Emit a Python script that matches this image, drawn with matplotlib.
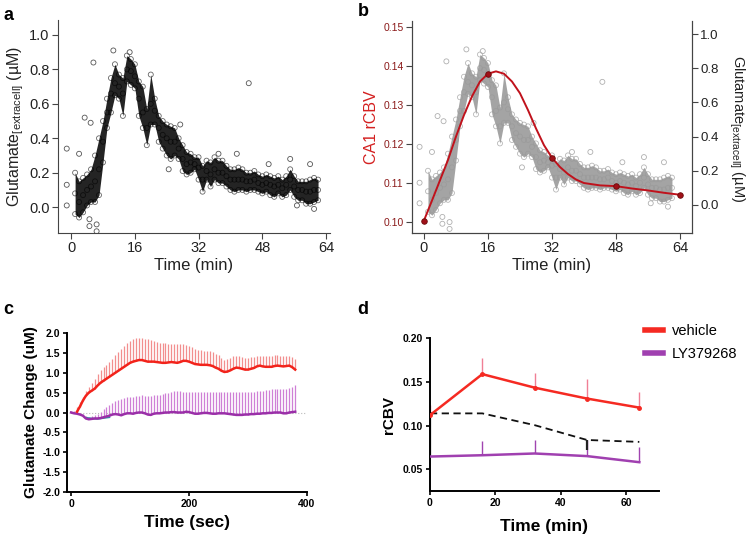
import numpy as np
import matplotlib
matplotlib.use('Agg')
import matplotlib.pyplot as plt
from matplotlib.lines import Line2D

plt.rcParams['font.family'] = ['Liberation Sans', 'DejaVu Sans']
plt.rcParams['mathtext.fontset'] = 'custom'
plt.rcParams['mathtext.rm'] = 'Liberation Sans'
plt.rcParams['mathtext.it'] = 'Liberation Sans:italic'

# ---- panel a / b : extracellular glutamate trace (uM), 1-min bins ----
glu_t = list(range(1, 63))
glu_mid = [0.08, 0.03, 0.07, 0.10, 0.12, 0.15, 0.22, 0.38, 0.55, 0.66,
           0.72, 0.70, 0.66, 0.80, 0.79, 0.76, 0.63, 0.55, 0.46, 0.60,
           0.56, 0.46, 0.42, 0.40, 0.38, 0.38, 0.34, 0.28, 0.25, 0.26,
           0.25, 0.23, 0.16, 0.21, 0.19, 0.22, 0.20, 0.20, 0.18, 0.16,
           0.16, 0.16, 0.16, 0.15, 0.15, 0.16, 0.14, 0.13, 0.14, 0.13,
           0.12, 0.13, 0.11, 0.13, 0.16, 0.12, 0.10, 0.10, 0.09, 0.09,
           0.10, 0.10]
glu_lo = [-0.04, -0.06, -0.03, 0.01, 0.03, 0.03, 0.07, 0.26, 0.46, 0.55,
          0.65, 0.63, 0.53, 0.73, 0.71, 0.69, 0.53, 0.46, 0.36, 0.48,
          0.48, 0.38, 0.34, 0.30, 0.28, 0.30, 0.28, 0.21, 0.19, 0.20,
          0.22, 0.16, 0.09, 0.16, 0.12, 0.16, 0.14, 0.14, 0.12, 0.10,
          0.09, 0.10, 0.10, 0.09, 0.10, 0.10, 0.09, 0.08, 0.09, 0.07,
          0.06, 0.08, 0.06, 0.07, 0.10, 0.06, 0.04, 0.04, 0.02, 0.02,
          0.03, 0.04]
glu_hi = [0.20, 0.15, 0.17, 0.19, 0.22, 0.30, 0.40, 0.50, 0.63, 0.75,
          0.83, 0.77, 0.75, 0.88, 0.86, 0.83, 0.73, 0.70, 0.57, 0.77,
          0.63, 0.53, 0.50, 0.48, 0.47, 0.46, 0.40, 0.36, 0.32, 0.31,
          0.29, 0.29, 0.24, 0.27, 0.26, 0.29, 0.27, 0.27, 0.24, 0.22,
          0.22, 0.23, 0.22, 0.20, 0.20, 0.21, 0.19, 0.18, 0.19, 0.18,
          0.17, 0.18, 0.16, 0.18, 0.22, 0.18, 0.15, 0.15, 0.15, 0.16,
          0.17, 0.16]
out_t = [-1.1, -1.1, -1.1, 2.0, 3.4, 4.9, 5.6, 4.6, 4.6, 6.4, 6.4, 10.6,
         14.7, 24.5, 27.4, 37.0, 41.6, 44.6, 49.6, 55.0, 56.7, 60.0, 61.0]
out_v = [0.34, 0.13, 0.01, 0.31, 0.52, 0.49, 0.84, -0.07, -0.11, -0.14,
         -0.10, 0.91, 0.90, 0.22, 0.48, 0.31, 0.31, 0.72, 0.25, 0.28,
         0.01, 0.25, -0.01]

# ---- panel b : CA1 rCBV ----
cbv_t = [0, 16, 32, 48, 64]
cbv = [0.1004, 0.1380, 0.1165, 0.1092, 0.1070]
cbv_curve_t = [0, 2, 4, 6, 8, 10, 12, 14, 16, 18, 20, 22, 24, 26, 28, 30,
               32, 34, 36, 38, 40, 44, 48, 52, 56, 60, 64]
cbv_curve = [0.1004, 0.1055, 0.1107, 0.1159, 0.1219, 0.1274, 0.1322,
             0.1360, 0.1380, 0.1386, 0.1380, 0.1360, 0.1330, 0.1287,
             0.1240, 0.1197, 0.1165, 0.1141, 0.1123, 0.1109, 0.1100,
             0.1094, 0.1092, 0.1086, 0.1081, 0.1075, 0.1070]

# ---- panel c : glutamate change (uM) ----
veh_c_t = np.arange(10, 381, 5)
veh_c = [0.02, 0.15, 0.30, 0.42, 0.50, 0.55, 0.60, 0.68, 0.75, 0.80,
         0.85, 0.90, 0.95, 1.00, 1.05, 1.10, 1.15, 1.20, 1.25, 1.28,
         1.30, 1.32, 1.32, 1.30, 1.28, 1.28, 1.28, 1.27, 1.26, 1.25,
         1.25, 1.26, 1.27, 1.26, 1.25, 1.27, 1.30, 1.30, 1.28, 1.25,
         1.22, 1.21, 1.20, 1.20, 1.20, 1.19, 1.17, 1.13, 1.10, 1.05,
         1.02, 1.03, 1.06, 1.10, 1.13, 1.12, 1.10, 1.08, 1.08, 1.10,
         1.12, 1.16, 1.18, 1.16, 1.15, 1.15, 1.15, 1.17, 1.18, 1.17,
         1.16, 1.17, 1.18, 1.14, 1.08]
veh_c_err = [0.13, 0.12, 0.10, 0.12, 0.15, 0.20, 0.25, 0.30, 0.32, 0.34,
             0.35, 0.38, 0.40, 0.44, 0.47, 0.50, 0.53, 0.54, 0.55, 0.56,
             0.57, 0.56, 0.55, 0.56, 0.57, 0.55, 0.52, 0.50, 0.49, 0.49,
             0.49, 0.47, 0.46, 0.46, 0.47, 0.45, 0.42, 0.41, 0.40, 0.39,
             0.38, 0.37, 0.37, 0.36, 0.35, 0.35, 0.35, 0.35, 0.35, 0.33,
             0.31, 0.32, 0.32, 0.31, 0.30, 0.30, 0.30, 0.30, 0.30, 0.29,
             0.28, 0.26, 0.25, 0.26, 0.26, 0.27, 0.27, 0.27, 0.26, 0.26,
             0.27, 0.26, 0.25, 0.25, 0.27]
ly_c_t = np.arange(0, 381, 5)
ly_c = [0.00, -0.02, -0.03, -0.05, -0.08, -0.15, -0.17, -0.16, -0.15, -0.15,
        -0.14, -0.12, -0.10, -0.08, -0.05, -0.04, -0.05, -0.07, -0.04, -0.02,
        -0.02, -0.03, -0.01, 0.00, 0.00, -0.02, -0.05, -0.06, -0.03, -0.02,
        -0.02, -0.01, 0.00, 0.00, 0.01, 0.01, 0.00, 0.00, 0.00, 0.02,
        0.01, -0.01, -0.03, -0.03, -0.02, -0.01, -0.01, -0.02, -0.03, -0.03,
        -0.02, -0.02, -0.02, -0.03, -0.04, -0.05, -0.06, -0.06, -0.06, -0.05,
        -0.05, -0.04, -0.04, -0.03, -0.03, -0.02, -0.02, -0.01, -0.01, 0.00,
        0.00, 0.00, -0.02, -0.02, 0.00, 0.01, 0.02]
ly_c_err = [0.05, 0.05, 0.04, 0.03, 0.04, 0.05, 0.06, 0.08, 0.10, 0.12,
            0.16, 0.20, 0.24, 0.28, 0.30, 0.34, 0.36, 0.40, 0.40, 0.40,
            0.41, 0.42, 0.42, 0.42, 0.43, 0.44, 0.46, 0.47, 0.46, 0.46,
            0.47, 0.48, 0.48, 0.49, 0.50, 0.52, 0.53, 0.53, 0.52, 0.50,
            0.51, 0.53, 0.55, 0.55, 0.54, 0.53, 0.53, 0.54, 0.55, 0.55,
            0.54, 0.54, 0.54, 0.55, 0.56, 0.57, 0.58, 0.58, 0.58, 0.57,
            0.57, 0.56, 0.56, 0.56, 0.57, 0.57, 0.58, 0.58, 0.59, 0.60,
            0.60, 0.60, 0.62, 0.62, 0.62, 0.64, 0.66]
base_c_t = [25, 35, 45, 55, 65]
base_c = [-0.13, -0.15, -0.16, -0.14, -0.12]

# ---- panel d : rCBV ----
d_t = [0, 16, 32, 48, 64]
veh_d = [0.112, 0.159, 0.1435, 0.131, 0.1206]
veh_d_err = [0.012, 0.019, 0.017, 0.023, 0.018]
ly_d = [0.0645, 0.066, 0.068, 0.065, 0.058]
ly_d_err = [0.0, 0.016, 0.015, 0.018, 0.017]
ctl_d = [0.114, 0.114, 0.1005, 0.0835, 0.0813]
ctl_d_lo = [0.049, 0.0, 0.0, 0.011, 0.0]

fig = plt.figure(figsize=(7.5, 5.43), dpi=100)


def r_style(ax, size=10.5):
    ax.tick_params(direction='out', length=4, width=0.8, colors='#444444',
                   labelsize=size, labelcolor='#222222', pad=2)


# ---------------- a ----------------
ax_a = fig.add_axes([0.0773, 0.5709, 0.3627, 0.3923])
ax_a.fill_between(glu_t, glu_lo, glu_hi, color='#111111', alpha=0.92,
                  lw=0, zorder=1)
for arr in (glu_lo, glu_mid, glu_hi):
    ax_a.scatter(glu_t, arr, s=13, facecolors='none', edgecolors='black',
                 linewidths=0.6, alpha=0.6, zorder=2)
ax_a.scatter(out_t, out_v, s=13, facecolors='none', edgecolors='#555555',
             linewidths=0.6, zorder=2)
ax_a.set_xlim(-3.3, 65)
ax_a.set_ylim(-0.15, 1.087)
ax_a.set_xticks([0, 16, 32, 48, 64])
ax_a.set_yticks([0.0, 0.2, 0.4, 0.6, 0.8, 1.0])
ax_a.spines[['top', 'right']].set_visible(False)
for s in ax_a.spines.values():
    s.set_color('#444444')
r_style(ax_a)
ax_a.set_xlabel('Time (min)', fontsize=12, color='#222222', labelpad=2)
ax_a.set_ylabel('Glutamate$_{\\mathrm{[extracell]}}$ (\u00b5M)', fontsize=11.5,
                color='#222222', labelpad=2)

# ---------------- b ----------------
ax_b = fig.add_axes([0.5493, 0.5709, 0.3733, 0.3904])
ax_b2 = ax_b.twinx()
ax_b2.fill_between(glu_t, glu_lo, glu_hi, color='#a4a4a4', lw=0, zorder=1)
for arr in (glu_lo, glu_mid, glu_hi):
    ax_b2.scatter(glu_t, arr, s=13, facecolors='none', edgecolors='#999999',
                  linewidths=0.6, alpha=0.7, zorder=2)
ax_b2.scatter(out_t, out_v, s=13, facecolors='none', edgecolors='#b0b0b0',
              linewidths=0.6, zorder=2)
ax_b2.set_ylim(-0.164, 1.076)
ax_b2.set_yticks([0.0, 0.2, 0.4, 0.6, 0.8, 1.0])
ax_b.set_zorder(ax_b2.get_zorder() + 1)
ax_b.patch.set_visible(False)
ax_b.plot(cbv_curve_t, cbv_curve, color='#c0121c', lw=1.4)
ax_b.plot(cbv_t, cbv, 'o', ms=4, color='#a01018', mec='#6a0a0a', mew=0.6)
ax_b.set_xlim(-3, 67)
ax_b.set_ylim(0.0972, 0.1515)
ax_b.set_xticks([0, 16, 32, 48, 64])
ax_b.set_yticks([0.10, 0.11, 0.12, 0.13, 0.14, 0.15])
ax_b.set_yticklabels(['0.10', '0.11', '0.12', '0.13', '0.14', '0.15'])
for a in (ax_b, ax_b2):
    a.spines['top'].set_visible(False)
    for s in a.spines.values():
        s.set_color('#444444')
    r_style(a)
ax_b.tick_params(axis='y', labelcolor='#8b1a1a', labelsize=7.5)
ax_b2.tick_params(axis='y', labelsize=9.5)
ax_b.set_xlabel('Time (min)', fontsize=12, color='#222222', labelpad=2)
ax_b.set_ylabel('CA1 rCBV', fontsize=11.5, color='#d42020', labelpad=3)
fig.text(0.982, 0.763, 'Glutamate$_{\\mathrm{[extracell]}}$ (\u00b5M)',
         fontsize=10.5, color='#222222', rotation=270,
         ha='center', va='center')

# ---------------- c ----------------
ax_c = fig.add_axes([0.0893, 0.0939, 0.32, 0.2928])
ax_c.plot([0, 400], [0, 0], ls=':', color='#bbbbbb', lw=0.8, zorder=0)
ax_c.errorbar(ly_c_t, ly_c, yerr=[np.zeros(len(ly_c_err)), ly_c_err],
              fmt='none', ecolor='#cf7fd6', elinewidth=0.9, zorder=1)
ax_c.errorbar(veh_c_t, veh_c, yerr=[np.zeros(len(veh_c_err)), veh_c_err],
              fmt='none', ecolor='#f28e8e', elinewidth=0.9, zorder=1)
ax_c.plot(base_c_t, base_c, color='#2e8fa0', lw=1.2, zorder=2)
ax_c.plot(ly_c_t, ly_c, color='#9a2fa8', lw=1.8, zorder=3)
ax_c.plot(veh_c_t, veh_c, color='#f2231b', lw=1.8, zorder=4)
ax_c.set_xlim(-7, 400)
ax_c.set_ylim(-2.0, 2.0)
ax_c.set_xticks([0, 200, 400])
ax_c.set_yticks([-2.0, -1.5, -1.0, -0.5, 0.0, 0.5, 1.0, 1.5, 2.0])
ax_c.set_yticklabels(['-2.0', '-1.5', '-1.0', '-0.5', '0.0', '0.5', '1.0',
                      '1.5', '2.0'])
ax_c.spines[['top', 'right']].set_visible(False)
for s in ax_c.spines.values():
    s.set_linewidth(1.4)
ax_c.tick_params(direction='out', length=3, width=1.2, labelsize=7.5, pad=2)
for lab in ax_c.get_xticklabels() + ax_c.get_yticklabels():
    lab.set_fontweight('bold')
ax_c.set_xlabel('Time (sec)', fontsize=12.5, fontweight='bold', labelpad=4)
ax_c.set_ylabel('Glutamate Change (uM)', fontsize=11, fontweight='bold',
                labelpad=3)

# ---------------- d ----------------
ax_d = fig.add_axes([0.5733, 0.0958, 0.3053, 0.281])
ax_d.errorbar(d_t, veh_d, yerr=[np.zeros(5), veh_d_err], fmt='none',
              ecolor='#f07f95', elinewidth=1.0, zorder=1)
ax_d.errorbar(d_t, ly_d, yerr=[np.zeros(5), ly_d_err], fmt='none',
              ecolor='#a044b0', elinewidth=1.0, zorder=1)
ax_d.errorbar(d_t, ctl_d, yerr=[ctl_d_lo, np.zeros(5)], fmt='none',
              ecolor='#222222', elinewidth=1.6, zorder=1)
ax_d.plot(d_t, ctl_d, ls=(0, (4, 2.5)), color='#111111', lw=1.3, zorder=2)
ax_d.plot(d_t, ly_d, color='#a040b0', lw=1.8, zorder=3)
ax_d.plot(d_t, veh_d, color='#f52a22', lw=1.8, marker='o', ms=2.5, zorder=4)
ax_d.set_xlim(0, 70)
ax_d.set_ylim(0.025, 0.20)
ax_d.set_xticks([0, 20, 40, 60])
ax_d.set_yticks([0.05, 0.10, 0.15, 0.20])
ax_d.set_yticklabels(['0.05', '0.10', '0.15', '0.20'])
ax_d.spines[['top', 'right']].set_visible(False)
for s in ax_d.spines.values():
    s.set_linewidth(1.4)
ax_d.tick_params(direction='out', length=3, width=1.2, labelsize=7.5, pad=2)
for lab in ax_d.get_xticklabels() + ax_d.get_yticklabels():
    lab.set_fontweight('bold')
ax_d.set_xlabel('Time (min)', fontsize=12.5, fontweight='bold', labelpad=8)
ax_d.set_ylabel('rCBV', fontsize=11, fontweight='bold', labelpad=5)
handles = [Line2D([], [], color='#f52a22', lw=4),
           Line2D([], [], color='#a040b0', lw=4)]
fig.legend(handles, ['vehicle', 'LY379268'], loc='upper left',
           bbox_to_anchor=(0.843, 0.427), frameon=False, fontsize=10.5,
           handlelength=1.2, handletextpad=0.6, labelspacing=0.6)

# panel letters
for x, y, s in [(0.004, 0.988, 'a'), (0.477, 0.995, 'b'),
                (0.004, 0.445, 'c'), (0.477, 0.445, 'd')]:
    fig.text(x, y, s, fontsize=13, fontweight='bold', va='top')

fig.savefig('out.png', dpi=100)
